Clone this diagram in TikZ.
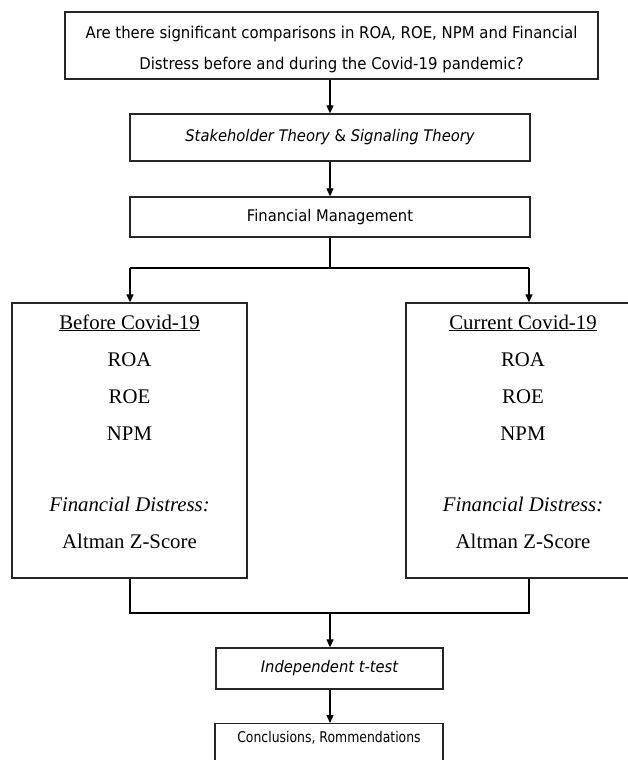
\documentclass[tikz,border=0pt]{standalone}
\usepackage{fontspec}
\setmainfont{Liberation Serif}
\newfontfamily\tah[FakeStretch=0.92]{DejaVu Sans}
\newfontfamily\tahc[FakeStretch=0.84]{DejaVu Sans}
\usetikzlibrary{arrows.meta}
\begin{document}
\begin{tikzpicture}[x=1pt,y=-1pt,
  box/.style={draw=black!85,line width=1.3pt,inner sep=0pt},
  conn/.style={draw=black,line width=1.2pt},
  arr/.style={conn,-{Triangle[length=8pt,width=7pt]}},
  sans/.style={font=\tah\fontsize{16}{19}\selectfont},
  serif/.style={font=\fontsize{20.8}{24}\selectfont,anchor=base,inner sep=0pt}]
\useasboundingbox (0,0) rectangle (628,760);
\clip (0,0) rectangle (628,760);
% boxes
\node[box,minimum width=533,minimum height=67] (q) at (331.5,45.5) {};
\node[font=\tah\fontsize{16.2}{31}\selectfont,align=center,inner sep=0pt] (qt) at (331.5,49.5)
  {Are there significant comparisons in ROA, ROE, NPM and Financial\\Distress before and during the Covid-19 pandemic?};
\node[box,sans,minimum width=400,minimum height=47] (th) at (330,137.5)
  {\itshape Stakeholder Theory\/ \upshape\&\ \itshape Signaling Theory};
\node[box,sans,minimum width=400,minimum height=40] (fm) at (330,217) {Financial Management};
\node[box,minimum width=235,minimum height=275] (left) at (129.5,440.5) {};
\node[box,minimum width=239,minimum height=275] (right) at (525.5,440.5) {};
\node[box,sans,minimum width=227,minimum height=41] (tt) at (329.5,668.5) {\itshape Independent t-test};
\node[box,minimum width=228,minimum height=60,anchor=north] (cr) at (329,723) {};
\node[font=\tahc\fontsize{14.8}{17}\selectfont,anchor=base,inner sep=0pt] (crt) at (329,742) {Conclusions, Rommendations};
% left box text
\node[serif] (l1) at (129.5,329) {\underline{Before Covid-19}};
\node[serif] (l2) at (129.5,366) {ROA};
\node[serif] (l3) at (129.5,403) {ROE};
\node[serif] (l4) at (129.5,440) {NPM};
\node[serif] (l5) at (129.5,511) {\itshape Financial Distress:};
\node[serif] (l6) at (129.5,548) {Altman Z-Score};
% right box text
\node[serif] (r1) at (523,329) {\underline{Current Covid-19}};
\node[serif] (r2) at (523,366) {ROA};
\node[serif] (r3) at (523,403) {ROE};
\node[serif] (r4) at (523,440) {NPM};
\node[serif] (r5) at (523,511) {\itshape Financial Distress:};
\node[serif] (r6) at (523,548) {Altman Z-Score};
% connectors
\draw[arr] (q.south -| th.north) -- (th.north);
\draw[arr] (th.south) -- (fm.north);
\coordinate (split) at (330,268);
\coordinate (ls) at (130,268);
\coordinate (rs) at (529,268);
\draw[conn] (fm.south) -- (split);
\draw[conn] (ls) -- (rs);
\draw[arr] (ls) -- (ls |- left.north);
\draw[arr] (rs) -- (rs |- right.north);
\coordinate (lm) at (130,613);
\coordinate (rm) at (529,613);
\coordinate (mm) at (330,613);
\draw[conn] (ls |- left.south) -- (lm) -- (rm) -- (rs |- right.south);
\draw[arr] (mm) -- (mm |- tt.north);
\draw[arr] (tt.south -| mm) -- (mm |- cr.north);
\end{tikzpicture}
\end{document}
